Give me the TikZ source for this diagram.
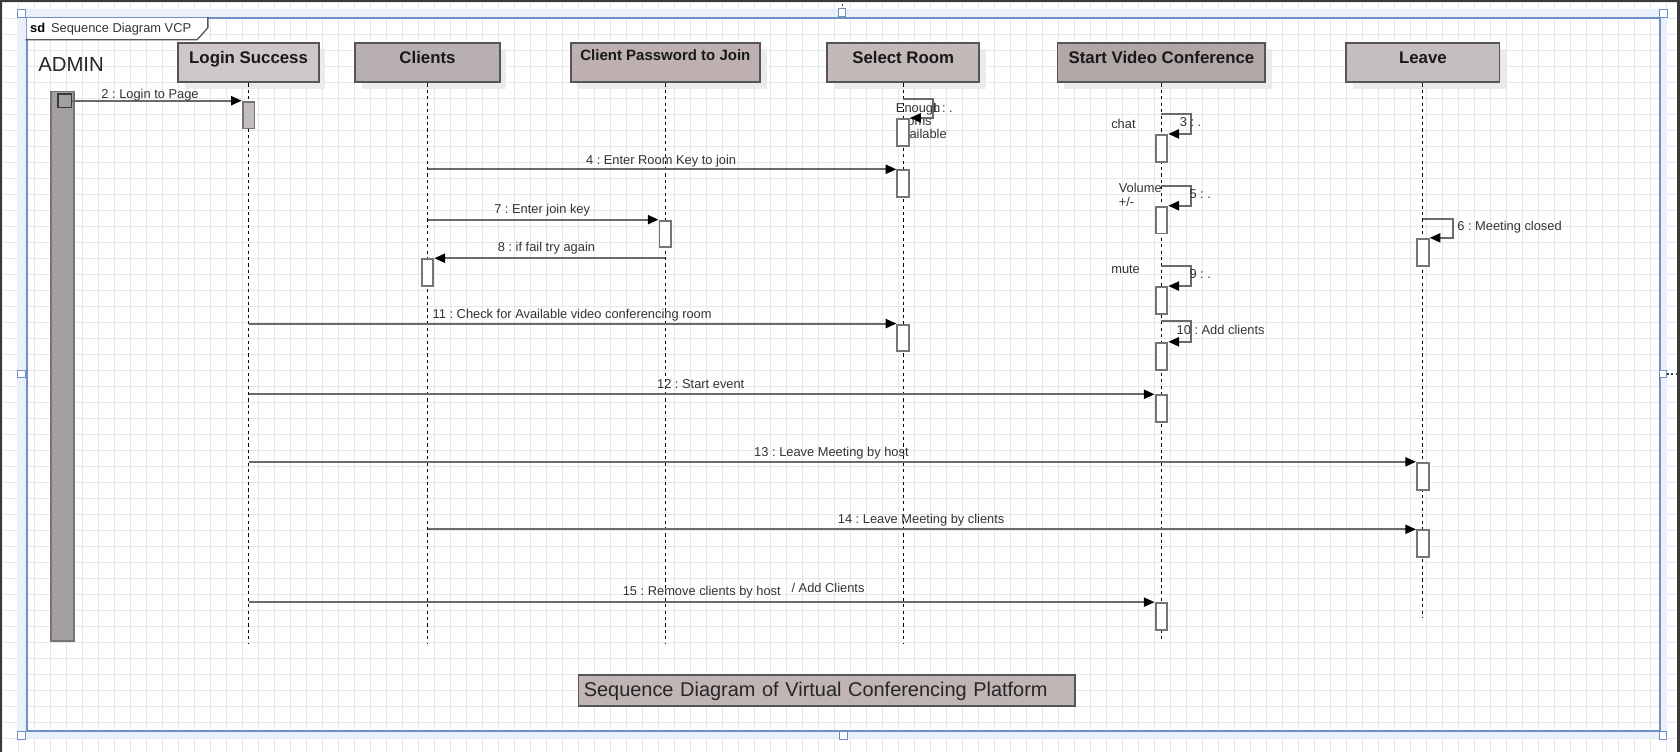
\documentclass[tikz,border=0pt]{standalone}
\usepackage{fontspec}
\setmainfont{Liberation Sans}
\usetikzlibrary{arrows.meta,shadows}
\definecolor{gridc}{HTML}{E5E7EA}
\definecolor{framec}{HTML}{6F8FC6}
\definecolor{glowc}{HTML}{EAF1FB}
\definecolor{edgec}{HTML}{3A3A3A}
\definecolor{linec}{HTML}{6A6A6A}
\definecolor{actc}{HTML}{757575}
\definecolor{txtc}{HTML}{333333}
\definecolor{hdrline}{HTML}{555555}
\definecolor{hdrA}{HTML}{CDC7C7}
\definecolor{hdrB}{HTML}{B8B0B0}
\definecolor{hdrC}{HTML}{BEB0B0}
\definecolor{hdrD}{HTML}{C4B9B9}
\definecolor{hdrE}{HTML}{B1A7A7}
\definecolor{hdrF}{HTML}{C4BEBE}
\definecolor{shadowc}{HTML}{EBEBEB}
\definecolor{titlec}{HTML}{C0B4B4}
\definecolor{adminc}{HTML}{A5A0A0}
\definecolor{loginact}{HTML}{C3BEBE}
\begin{document}
\frenchspacing
\begin{tikzpicture}[x=1pt,y=-1pt,
  lbl/.style={inner sep=0, text=txtc, font=\fontsize{12}{14}\selectfont, anchor=base},
  lblw/.style={lbl, anchor=base west},
  hdr/.style={draw=hdrline, line width=1.8pt, inner xsep=0, inner ysep=0,
    font=\bfseries\fontsize{15.7}{18}\selectfont, text=black!90,
    drop shadow={shadow xshift=6pt, shadow yshift=-6pt, fill=shadowc, opacity=1},
    text height=19.8pt, text depth=17.2pt, anchor=north},
  act/.style={draw=actc, line width=1.8pt, fill=white, minimum width=11pt,
    minimum height=25pt, inner sep=0, anchor=north},
  msg/.style={draw=linec, line width=1.8pt,
    -{Triangle[length=10pt,width=8.5pt,fill=black,color=black]}},
  lifeline/.style={draw=black, line width=0.9pt, dash pattern=on 3pt off 3pt},
  handle/.style={draw=framec, fill=white, line width=0.8pt, minimum size=7pt, inner sep=0},
]
\useasboundingbox (0,0) rectangle (1568,702);
\fill[white] (0,0) rectangle (1568,702);
% grid
\foreach \i in {0,...,105} {\draw[gridc, line width=0.8pt] ({2.5+\i*14.933},0) -- ({2.5+\i*14.933},702);}
\foreach \j in {0,...,47} {\draw[gridc, line width=0.8pt] (0,{2.5+\j*14.933}) -- (1568,{2.5+\j*14.933});}
% frame
\draw[glowc, line width=8pt] (20,12) rectangle (1552,685);
\node[draw=framec, line width=2pt, minimum width=1524pt, minimum height=665pt,
  inner sep=0, anchor=north west] (frame) at (24,16) {};
% sd tab
\fill[white] (25,17) -- (193,17) -- (193,26) -- (184,36) -- (25,36) -- cycle;
\draw[hdrline, line width=1.2pt] (194,16) -- (194,26) -- (184,37) -- (24,37);
\node[inner sep=0, anchor=base west, font=\bfseries\fontsize{12}{14}\selectfont] (sdt) at (28,30.3) {sd};
\node[inner sep=0, anchor=base west, font=\fontsize{12}{14}\selectfont, text=txtc] (sdname) at (47.5,30.3) {Sequence Diagram VCP};
% edges of the window
\fill[edgec] (0,0) rectangle (1568,2.2);
\fill[edgec] (0,0) rectangle (2.2,702);
\fill[edgec] (1565,0) rectangle (1568,702);
\coordinate (stubA) at (786,0);
\coordinate (stubB) at (1565,349);
% handles
\node[handle] (hd1) at (20,12.5) {};
\node[handle] (hd2) at (786,11.5) {};
\node[handle] (hd3) at (1552.5,12.5) {};
\node[handle] (hd4) at (20,349) {};
\node[handle] (hd5) at (1552,349) {};
\node[handle] (hd6) at (20,686.5) {};
\node[handle] (hd7) at (787,686.5) {};
\node[handle] (hd8) at (1552,686.5) {};
\draw[edgec, line width=1.2pt, dash pattern=on 2pt off 2pt] (stubA) -- (hd2.north);
\draw[edgec, line width=1.2pt, dash pattern=on 2pt off 2pt] (hd5.east) -- (stubB);

% admin
\node[inner sep=0, anchor=west, font=\fontsize{19}{22}\selectfont, text=black!85] (admin) at (35.5,60) {ADMIN};
\node[draw=actc, line width=1.8pt, fill=adminc, minimum width=22pt, minimum height=513pt,
  anchor=north west, inner sep=0] (adminbar) at (46.5,84.5) {};
\node[draw=edgec, line width=1.3pt, fill=adminc, minimum size=12.5pt, inner sep=0] (sq) at (60.5,94) {};

% headers
\node[hdr, fill=hdrA, minimum width=131pt] (h1) at (232,39) {Login Success};
\node[hdr, fill=hdrB, minimum width=135pt] (h2) at (399,39) {Clients};
\node[hdr, fill=hdrC, minimum width=177pt, font=\bfseries\fontsize{14}{16}\selectfont,
  text height=17pt, text depth=20pt] (h3) at (621,39) {Client Password to Join};
\node[hdr, fill=hdrD, minimum width=142pt] (h4) at (843,39) {Select Room};
\node[hdr, fill=hdrE, minimum width=194pt] (h5) at (1084,39) {Start Video Conference};
\node[hdr, fill=hdrF, minimum width=143pt] (h6) at (1328,39) {Leave};

% lifelines
\coordinate (e1) at (232,600);
\coordinate (e2) at (399,600);
\coordinate (e3) at (621,600);
\coordinate (e4) at (843,600);
\coordinate (e5) at (1084,599);
\coordinate (e6) at (1328,577);
\draw[lifeline] (h1.south) -- (e1);
\draw[lifeline] (h2.south) -- (e2);
\draw[lifeline] (h3.south) -- (e3);
\draw[lifeline] (h4.south) -- (e4);
\draw[lifeline] (h5.south) -- (e5);
\draw[lifeline] (h6.south) -- (e6);

% texts that lie under activations
\node[lblw] (l1) at (869,105.3) {1 : .};
\node[lblw] (en1) at (836,105.3) {Enough};
\node[lblw] (en2) at (836,117.3) {rooms};
\node[lblw] (en3) at (836,129.3) {available};

% activations
\node[act, fill=loginact] (aL2) at (232,94) {};
\node[act] (aSR1) at (843,110) {};
\node[act] (aSVC3) at (1084,125) {};
\node[act] (aSR4) at (843,158) {};
\node[act] (aSVC5) at (1084,192) {};
\node[act] (aCPJ7) at (621,205) {};
\node[act] (aLv6) at (1328,222) {};
\node[act] (aCl8) at (399,241) {};
\node[act] (aSVC9) at (1084,267) {};
\node[act] (aSR11) at (843,302) {};
\node[act] (aSVC10) at (1084,319) {};
\node[act] (aSVC12) at (1084,368) {};
\node[act] (aLv13) at (1328,431) {};
\node[act] (aLv14) at (1328,494) {};
\node[act] (aSVC15) at (1084,562) {};

% message start points
\coordinate (s4) at (399,158);
\coordinate (s7) at (399,205);
\coordinate (s8) at (621,241);
\coordinate (s11) at (232,302);
\coordinate (s12) at (232,368);
\coordinate (s13) at (232,431);
\coordinate (s14) at (399,494);
\coordinate (s15) at (232,562);
\coordinate (t1) at (843,92);
\coordinate (t3) at (1084,106);
\coordinate (t5) at (1084,174);
\coordinate (t6) at (1328,204);
\coordinate (t9) at (1084,248);
\coordinate (t10) at (1084,300);

% messages
\draw[msg] (sq.east) -- (aL2.north west);
\draw[msg] (s4) -- (aSR4.north west);
\draw[msg] (s7) -- (aCPJ7.north west);
\draw[msg] (s8) -- (aCl8.north east);
\draw[msg] (s11) -- (aSR11.north west);
\draw[msg] (s12) -- (aSVC12.north west);
\draw[msg] (s13) -- (aLv13.north west);
\draw[msg] (s14) -- (aLv14.north west);
\draw[msg] (s15) -- (aSVC15.north west);
% self messages
\draw[msg] (t1) -- ++(28,0) |- (aSR1.north east);
\draw[msg] (t3) -- ++(28,0) |- (aSVC3.north east);
\draw[msg] (t5) -- ++(28,0) |- (aSVC5.north east);
\draw[msg] (t6) -- ++(28,0) |- (aLv6.north east);
\draw[msg] (t9) -- ++(28,0) |- (aSVC9.north east);
\draw[msg] (t10) -- ++(28,0) |- (aSVC10.north east);

% labels
\node[lbl] (m2) at (140,92.3) {2 : Login to Page};
\node[lbl] (m4) at (617,153.3) {4 : Enter Room Key to join};
\node[lbl] (m7) at (506,199.3) {7 : Enter join key};
\node[lbl] (m8) at (510,234.3) {8 : if fail try again};
\node[lbl] (m11) at (534,297.3) {11 : Check for Available video conferencing room};
\node[lbl] (m12) at (654,362.3) {12 : Start event};
\node[lbl] (m13) at (776,425.6) {13 : Leave Meeting by host};
\node[lbl] (m14) at (859.7,488.7) {14 : Leave Meeting by clients};
\node[lbl] (m15) at (655,556) {15 : Remove clients by host};
\node[lbl] (m15b) at (772.8,553.3) {/ Add Clients};
\node[lblw] (m3) at (1101,118.3) {3 : .};
\node[lblw] (chat) at (1037,120.3) {chat};
\node[lblw] (m5) at (1110,185.3) {5 : .};
\node[lblw] (vol1) at (1044,179.9) {Volume};
\node[lblw] (vol2) at (1044,192.3) {+/-};
\node[lblw] (m9) at (1110,260.3) {9 : .};
\node[lblw] (mute) at (1037,255.3) {mute};
\node[lblw] (m10) at (1098,312.3) {10 : Add clients};
\node[lblw] (m6) at (1360,215.3) {6 : Meeting closed};

% title
\node[draw=hdrline, line width=1.8pt, fill=titlec, anchor=north west, inner xsep=5pt,
  inner ysep=0, text width=453pt, align=left, text height=19.7pt, text depth=9.3pt,
  font=\fontsize{18.6}{22}\selectfont, text=black!85] (title) at (539,629)
  {Sequence Diagram of Virtual Conferencing Platform};
\end{tikzpicture}
\end{document}
